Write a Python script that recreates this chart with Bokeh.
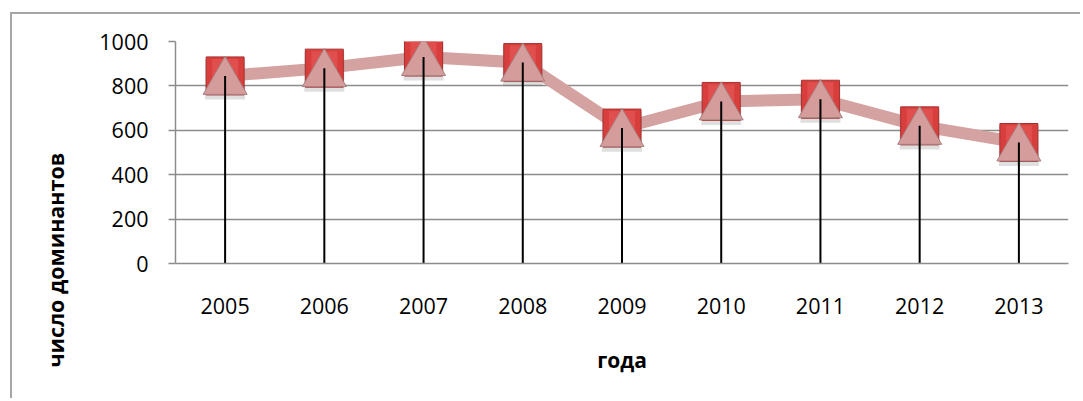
from bokeh.plotting import figure
from bokeh.models import FactorRange, Range1d, Title, ColumnDataSource, FixedTicker, InlineStyleSheet
from bokeh.transform import dodge
from bokeh.embed import file_html
from bokeh.resources import INLINE

years = ["2005", "2006", "2007", "2008", "2009", "2010", "2011", "2012", "2013"]
values = [845, 880, 930, 905, 610, 730, 740, 620, 545]
y_ticks = [0, 200, 400, 600, 800, 1000]
x_title = "года"
y_title = "число доминантов"

src = ColumnDataSource(dict(x=years, y=values, y0=[0] * len(years)))

p = figure(x_range=FactorRange(*years), y_range=Range1d(0, 1000),
           width=1080, height=398, output_backend="svg", toolbar_location=None,
           min_border_left=175, min_border_right=12, min_border_top=41, min_border_bottom=135)
p.outline_line_color = None
p.background_fill_color = "white"
p.border_fill_color = "white"
p.stylesheets = [InlineStyleSheet(css=":host::after {content:''; position:absolute; left:10px; top:12px; "
                                      "right:0px; bottom:0px; border-left:2px solid #a6a6a6; "
                                      "border-top:2px solid #a6a6a6; pointer-events:none;}")]

grid = "#8c8c8c"
p.xgrid.grid_line_color = None
p.ygrid.grid_line_color = grid
p.ygrid.grid_line_width = 1.5
p.yaxis.ticker = FixedTicker(ticks=y_ticks)
for ax in (p.xaxis, p.yaxis):
    ax.axis_line_color = grid
    ax.axis_line_width = 1.5
    ax.major_label_text_font = "Open Sans"
    ax.major_label_text_font_size = "21.5px"
    ax.major_label_text_color = "black"
    ax.minor_tick_line_color = None
p.yaxis.major_tick_line_color = grid
p.yaxis.major_tick_line_width = 1.5
p.yaxis.major_tick_out = 7
p.yaxis.major_tick_in = 0
p.yaxis.major_label_standoff = 20
p.xaxis.major_tick_line_color = None
p.xaxis.major_label_standoff = 28
p.xaxis.axis_label = x_title
p.xaxis.axis_label_text_font = "Open Sans"
p.xaxis.axis_label_text_font_style = "bold"
p.xaxis.axis_label_text_font_size = "21px"
p.xaxis.axis_label_text_color = "black"
p.xaxis.axis_label_standoff = 29

p.line("x", "y", source=src, line_color="#d4a3a1", line_width=12)
p.scatter(x="x", y=dodge("y", -16, range=p.y_range), source=src, marker="square", size=40,
          fill_color="#606060", fill_alpha=0.2, line_color=None)
p.scatter("x", "y", source=src, marker="square", size=38, fill_color="#d83e3c",
          line_color="#a83030", line_width=1)
p.scatter(x="x", y=dodge("y", 18, range=p.y_range), source=src, marker="square", size=26,
          fill_color="#e65a58", line_color=None, fill_alpha=0.6)
p.scatter(x="x", y=dodge("y", -26, range=p.y_range), source=src, marker="triangle", size=44,
          fill_color="#d49d9b", line_color="#a88080", line_width=1)
p.segment(x0="x", y0="y0", x1="x", y1="y", source=src, line_color="black", line_width=2)

p.add_layout(Title(text=y_title, align="left", offset=-104, vertical_align="top", standoff=50,
                   text_font="Open Sans", text_font_style="bold", text_font_size="21.5px",
                   text_color="black"), "left")

open("out.html", "w").write(file_html(p, INLINE))
